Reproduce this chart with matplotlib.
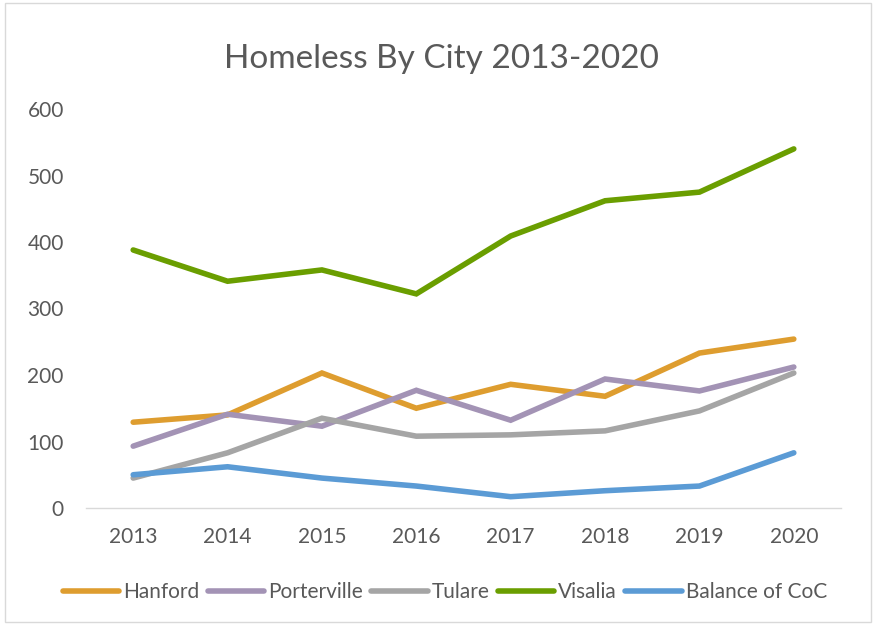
import matplotlib
matplotlib.use("Agg")
import matplotlib.pyplot as plt
from matplotlib.patches import Rectangle

years = ["2013", "2014", "2015", "2016", "2017", "2018", "2019", "2020"]
hanford = [129, 140, 203, 150, 186, 168, 233, 254]
porterville = [93, 141, 123, 177, 132, 194, 176, 212]
tulare = [45, 83, 135, 108, 110, 116, 146, 203]
visalia = [388, 341, 358, 322, 409, 462, 475, 540]
balance = [50, 62, 45, 33, 17, 26, 33, 83]

series = [
    ("Hanford", hanford, "#DE9D2F"),
    ("Porterville", porterville, "#A393B5"),
    ("Tulare", tulare, "#A5A5A5"),
    ("Visalia", visalia, "#6A9E00"),
    ("Balance of CoC", balance, "#5B9BD5"),
]

plt.rcParams["font.family"] = ["Lato", "DejaVu Sans"]
text_color = "#595959"

fig = plt.figure(figsize=(8.76, 6.25), dpi=100)
fig.patches.append(Rectangle((0.006, 0.005), 0.988, 0.99, transform=fig.transFigure,
                             fill=False, edgecolor="#D9D9D9", linewidth=1))
ax = fig.add_axes([86 / 876, (625 - 508) / 625, (841 - 86) / 876, (508 - 109) / 625])

x = list(range(len(years)))
for name, vals, col in series:
    ax.plot(x, vals, color=col, linewidth=4, solid_capstyle="round",
            solid_joinstyle="miter", label=name)

ax.set_xlim(-0.5, len(years) - 0.5)
ax.set_ylim(0, 600)
ax.set_yticks(range(0, 601, 100))
ax.set_xticks(x)
ax.set_xticklabels(years)
for s in ["top", "right", "left"]:
    ax.spines[s].set_visible(False)
ax.spines["bottom"].set_color("#D9D9D9")
ax.spines["bottom"].set_linewidth(1)
ax.tick_params(axis="both", length=0, labelsize=15, labelcolor=text_color)
ax.tick_params(axis="y", pad=16)
ax.tick_params(axis="x", pad=14)

fig.text(441 / 876, 1 - 68 / 625, "Homeless By City 2013-2020", ha="center", va="baseline",
         fontsize=24, color=text_color)

leg = fig.legend(loc="center", bbox_to_anchor=(445 / 876, 1 - 592 / 625), ncol=5,
                 frameon=False, fontsize=15, handlelength=2.7, handletextpad=0.2,
                 columnspacing=0.4)
for t in leg.get_texts():
    t.set_color(text_color)

fig.savefig("out.png", dpi=100)
